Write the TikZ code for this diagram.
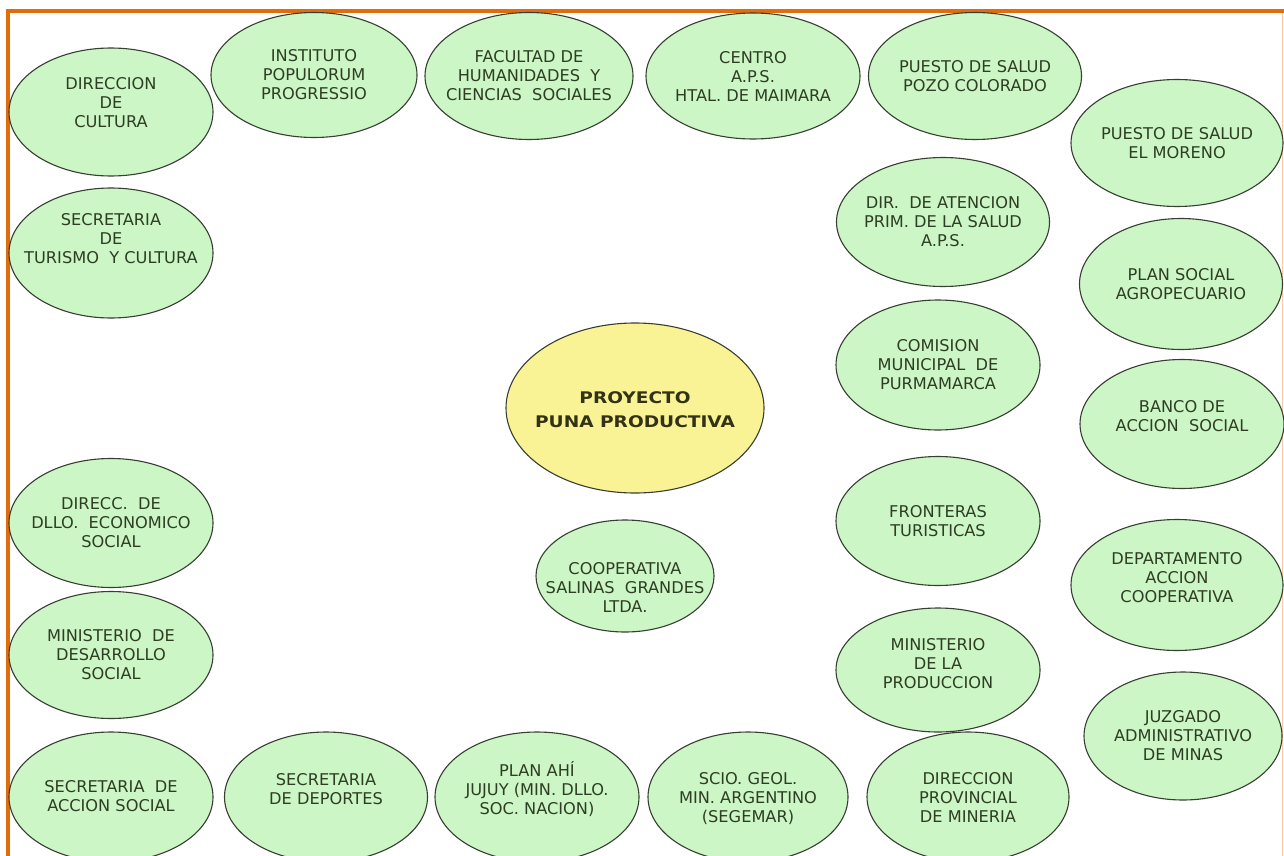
\documentclass[tikz,border=0pt]{standalone}
\usepackage{fontspec}
\setmainfont{DejaVu Sans}
\newfontfamily\widebold{DejaVu Sans}[FakeStretch=1.16]
\usetikzlibrary{shapes.geometric}
\definecolor{orgfill}{RGB}{204,246,198}
\definecolor{orgline}{RGB}{55,62,50}
\definecolor{orgtext}{RGB}{46,62,36}
\definecolor{mainfill}{RGB}{250,243,150}
\definecolor{maintext}{RGB}{50,50,20}
\definecolor{frameorange}{RGB}{227,108,10}
\tikzset{
  org/.style={ellipse, draw=orgline, line width=1.1pt, fill=orgfill, inner sep=0pt},
  lbl/.style={align=center, text=orgtext, inner sep=0pt,
    font=\fontsize{16.2}{19}\selectfont},
  mainlbl/.style={align=center, text=maintext, inner sep=0pt,
    font=\widebold\bfseries\fontsize{16}{24}\selectfont},
  frame/.style={draw=frameorange, line width=3.5pt},
}
\begin{document}
\begin{tikzpicture}[x=1pt,y=-1pt]
\useasboundingbox[fill=white] (0,0) rectangle (1284,856);
% frame
\coordinate (ftl) at (8,11);
\coordinate (ftr) at (1284,11);
\coordinate (fbl) at (8,856);
\draw[frameorange!35, line width=1pt] (1282.5,11) -- (1282.5,856);
\draw[frame] (ftr) -- (ftl) -- (fbl);
% left column
\node[org, minimum width=204pt, minimum height=128pt, label={[lbl,yshift=9pt]center:{DIRECCION\\DE\\CULTURA}}] (dc) at (111,112) {};
\node[org, minimum width=204pt, minimum height=130pt, label={[lbl,yshift=14pt]center:{SECRETARIA\\DE\\TURISMO~ Y CULTURA}}] (stc) at (111,253) {};
\node[org, minimum width=204pt, minimum height=129pt, label={[lbl]center:{DIRECC.~ DE\\DLLO.~ ECONOMICO\\SOCIAL}}] (ddes) at (111,523) {};
\node[org, minimum width=204pt, minimum height=127pt, label={[lbl]center:{MINISTERIO~ DE\\DESARROLLO\\SOCIAL}}] (mds) at (111,655) {};
\node[org, minimum width=204pt, minimum height=130pt, label={[lbl,yshift=1pt]center:{SECRETARIA~ DE\\ACCION SOCIAL}}] (sas) at (111,797) {};
% top row
\node[org, minimum width=206pt, minimum height=125pt, label={[lbl]center:{INSTITUTO\\POPULORUM\\PROGRESSIO}}] (ipp) at (314,75) {};
\node[org, minimum width=208pt, minimum height=127pt, label={[lbl]center:{FACULTAD DE\\HUMANIDADES~ Y\\CIENCIAS~ SOCIALES}}] (fhcs) at (529,76) {};
\node[org, minimum width=214pt, minimum height=126pt, label={[lbl]center:{CENTRO\\A.P.S.\\HTAL. DE MAIMARA}}] (caps) at (753,76) {};
\node[org, minimum width=213pt, minimum height=127pt, label={[lbl]center:{PUESTO DE SALUD\\POZO COLORADO}}] (pspc) at (975,76) {};
% middle right column
\node[org, minimum width=213pt, minimum height=129pt, label={[lbl]center:{DIR.~ DE ATENCION\\PRIM. DE LA SALUD\\A.P.S.}}] (dap) at (943,222) {};
\node[org, minimum width=204pt, minimum height=130pt, label={[lbl]center:{COMISION\\MUNICIPAL~ DE\\PURMAMARCA}}] (cmp) at (938,365) {};
\node[org, minimum width=204pt, minimum height=129pt, label={[lbl]center:{FRONTERAS\\TURISTICAS}}] (ft) at (938,521) {};
\node[org, minimum width=204pt, minimum height=124pt, label={[lbl,yshift=6pt]center:{MINISTERIO\\DE LA\\PRODUCCION}}] (mp) at (938,670) {};
\node[org, minimum width=202pt, minimum height=130pt, label={[lbl]center:{DIRECCION\\PROVINCIAL\\DE MINERIA}}] (dpm) at (968,797) {};
% far right column
\node[org, minimum width=212pt, minimum height=127pt, label={[lbl]center:{PUESTO DE SALUD\\EL MORENO}}] (psem) at (1177,143) {};
\node[org, minimum width=203pt, minimum height=131pt, label={[lbl]center:{PLAN SOCIAL\\AGROPECUARIO}}] (psa) at (1181,284) {};
\node[org, minimum width=204pt, minimum height=129pt, label={[lbl,yshift=8pt]center:{BANCO DE\\ACCION~ SOCIAL}}] (bas) at (1182,424) {};
\node[org, minimum width=212pt, minimum height=131pt, label={[lbl,yshift=7pt]center:{DEPARTAMENTO\\ACCION\\COOPERATIVA}}] (dac) at (1177,585) {};
\node[org, minimum width=198pt, minimum height=128pt, label={[lbl]center:{JUZGADO\\ADMINISTRATIVO\\DE MINAS}}] (jam) at (1183,736) {};
% bottom row
\node[org, minimum width=203pt, minimum height=130pt, label={[lbl,yshift=8pt]center:{SECRETARIA\\DE DEPORTES}}] (sd) at (326,797) {};
\node[org, minimum width=204pt, minimum height=130pt, label={[lbl,yshift=8pt]center:{PLAN AHÍ\\JUJUY (MIN. DLLO.\\SOC. NACION)}}] (paj) at (537,797) {};
\node[org, minimum width=200pt, minimum height=130pt, label={[lbl,yshift=-2pt]center:{SCIO. GEOL.\\MIN. ARGENTINO\\(SEGEMAR)}}] (sgma) at (748,797) {};
% centre
\node[org, fill=mainfill, minimum width=258pt, minimum height=170pt, label={[mainlbl,yshift=-2pt]center:{PROYECTO\\PUNA PRODUCTIVA}}] (ppp) at (635,408) {};
\node[org, minimum width=178pt, minimum height=112pt, label={[lbl,yshift=-11pt]center:{COOPERATIVA\\SALINAS~ GRANDES\\LTDA.}}] (csg) at (625,576) {};
\end{tikzpicture}
\end{document}
